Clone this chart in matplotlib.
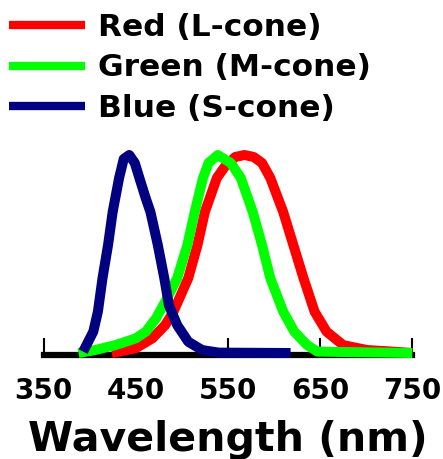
import matplotlib
matplotlib.use("Agg")
import matplotlib.pyplot as plt

# relative cone sensitivity
red_nm = [424, 450, 468, 482, 491, 507, 517, 525, 538, 548, 558, 568, 578, 587, 596, 610, 621, 632, 644, 657, 675, 701, 729, 750]
red_val = [0.0, 0.024, 0.074, 0.141, 0.209, 0.378, 0.545, 0.712, 0.884, 0.95, 0.99, 1.0, 0.99, 0.96, 0.884, 0.712, 0.545, 0.378, 0.209, 0.108, 0.04, 0.015, 0.007, 0.0]

green_nm = [388, 406, 428, 450, 461, 472, 484, 495, 506, 514, 523, 529, 539, 553, 564, 577, 587, 596, 610, 622, 636, 647, 750]
green_val = [0.0, 0.015, 0.04, 0.074, 0.108, 0.175, 0.276, 0.378, 0.545, 0.712, 0.884, 0.96, 1.0, 0.96, 0.884, 0.712, 0.545, 0.378, 0.209, 0.108, 0.04, 0.007, 0.0]

blue_nm = [393, 404, 409, 414, 420, 425, 432, 437, 443, 449, 454, 461, 466, 474, 481, 486, 495, 507, 522, 540, 618]
blue_val = [0.007, 0.108, 0.209, 0.378, 0.545, 0.712, 0.884, 0.98, 1.0, 0.96, 0.884, 0.78, 0.712, 0.545, 0.378, 0.242, 0.141, 0.057, 0.015, 0.002, 0.0]

xticks = [350, 450, 550, 650, 750]

fig = plt.figure(figsize=(4.43, 4.59), dpi=100)
ax = fig.add_axes([0.0982, 0.2266, 0.8325, 0.4357])

lw = 7.2
ax.plot(red_nm, red_val, color="#ff0000", lw=lw, solid_joinstyle="round",
        solid_capstyle="butt", clip_on=False, label="Red (L-cone)")
ax.plot(green_nm, green_val, color="#00ff00", lw=lw, solid_joinstyle="round",
        solid_capstyle="butt", clip_on=False, label="Green (M-cone)")
ax.plot(blue_nm, blue_val, color="#000080", lw=lw, solid_joinstyle="round",
        solid_capstyle="butt", clip_on=False, label="Blue (S-cone)")

ax.set_xlim(350, 750)
ax.set_ylim(-0.01, 1.0)
for s in ["top", "right", "left"]:
    ax.spines[s].set_visible(False)
ax.spines["bottom"].set_linewidth(4.5)
ax.spines["bottom"].set_zorder(0)
ax.set_yticks([])
ax.set_xticks(xticks)
ax.set_xticklabels([str(t) for t in xticks], fontsize=20, fontweight="bold")
ax.tick_params(axis="x", direction="in", length=12, width=1.5, pad=16)
ax.set_xlabel("Wavelength (nm)", fontsize=29.5, fontweight="bold", labelpad=11)

leg = fig.legend(loc="upper left", bbox_to_anchor=(9 / 443, 0.9726), frameon=False,
                 prop={"size": 22.5, "weight": "bold"}, handlelength=2.43,
                 handletextpad=0.42, labelspacing=0.38, borderpad=0,
                 borderaxespad=0)
for h in leg.get_lines():
    h.set_linewidth(6)

fig.savefig("out.png", dpi=100)
